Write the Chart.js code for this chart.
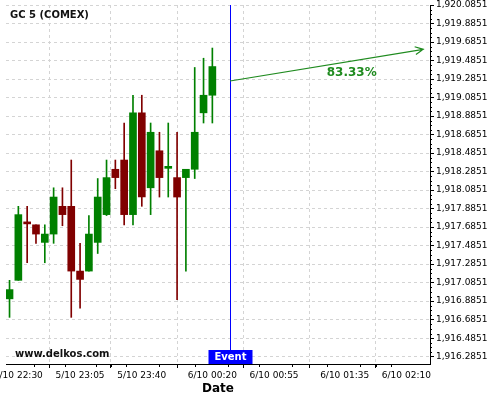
<!DOCTYPE html>
<html>
<head>
<meta charset="utf-8">
<script src="https://cdn.jsdelivr.net/npm/chart.js@4.4.1/dist/chart.umd.min.js"></script>
<style>
  html, body { margin: 0; padding: 0; background: #fff; }
</style>
</head>
<body>
<canvas id="myChart" width="500" height="400"></canvas>
<script>
// candle times, in minutes after 5/10 22:30 (5 minute candles)
var minutes = [-5, 0, 5, 10, 15, 20, 25, 30, 35, 40, 45, 50, 55, 60, 65, 70, 75, 80, 85, 90, 95, 100, 105, 110];
var open  = [1916.91, 1917.11, 1917.73, 1917.71, 1917.52, 1917.61, 1917.91, 1917.91, 1917.21, 1917.21, 1917.52, 1917.82,
             1918.31, 1918.41, 1917.82, 1918.92, 1918.11, 1918.51, 1918.32, 1918.22, 1918.22, 1918.31, 1918.92, 1919.11];
var high  = [1917.11, 1917.91, 1917.91, 1917.71, 1917.71, 1918.11, 1918.11, 1918.41, 1917.51, 1917.81, 1918.21, 1918.41,
             1918.41, 1918.81, 1919.11, 1919.11, 1918.81, 1918.71, 1918.81, 1918.71, 1918.31, 1919.41, 1919.51, 1919.62];
var low   = [1916.71, 1917.11, 1917.30, 1917.51, 1917.30, 1917.51, 1917.70, 1916.71, 1916.81, 1917.21, 1917.40, 1917.81,
             1918.10, 1917.71, 1917.71, 1917.91, 1917.82, 1918.01, 1918.01, 1916.90, 1917.21, 1918.21, 1918.81, 1918.81];
var close = [1917.01, 1917.82, 1917.72, 1917.61, 1917.61, 1918.01, 1917.82, 1917.21, 1917.12, 1917.61, 1918.01, 1918.22,
             1918.22, 1917.82, 1918.92, 1918.01, 1918.71, 1918.22, 1918.33, 1918.01, 1918.31, 1918.71, 1919.11, 1919.42];

var xTickMinutes = [0, 35, 70, 110, 145, 185, 220];
var xTickLabels = ['5/10 22:30', '5/10 23:05', '5/10 23:40', '6/10 00:20', '6/10 00:55', '6/10 01:35', '6/10 02:10'];
var yTicks = [1916.2851, 1916.4851, 1916.6851, 1916.8851, 1917.0851, 1917.2851, 1917.4851, 1917.6851, 1917.8851, 1918.0851,
              1918.2851, 1918.4851, 1918.6851, 1918.8851, 1919.0851, 1919.2851, 1919.4851, 1919.6851, 1919.8851, 1920.0851];

var eventMinute = 120;
var arrowFrom = [120, 1919.264];
var arrowTo = [229.6, 1919.606];
var arrowText = '83.33%';
var arrowTextAt = [189, 1919.35];

var UP = '#008000', DOWN = '#800000', ARROW = '#1f8b1f';
var FONT = '"DejaVu Sans", sans-serif';

var bodies = minutes.map(function (t, i) { return { x: t, y: [open[i], close[i]] }; });
var wicks = minutes.map(function (t, i) { return { x: t, y: [low[i], high[i]] }; });
var colors = minutes.map(function (t, i) { return close[i] >= open[i] ? UP : DOWN; });

var overlay = {
  id: 'overlay',
  afterDraw: function (chart) {
    var c = chart.ctx, xs = chart.scales.x, ys = chart.scales.y, area = chart.chartArea;
    c.save();

    // minor ticks
    c.strokeStyle = '#000';
    c.lineWidth = 1;
    c.beginPath();
    for (var i = 0; i < yTicks.length - 1; i++) {
      for (var k = 1; k < 4; k++) {
        var py = Math.round(ys.getPixelForValue(yTicks[i] + 0.05 * k)) + 0.5;
        c.moveTo(area.right, py); c.lineTo(area.right + 2, py);
      }
    }
    for (var j = 0; j < xTickMinutes.length - 1; j++) {
      var step = (xTickMinutes[j + 1] - xTickMinutes[j]) / 4;
      for (var m = 1; m < 4; m++) {
        var px = Math.round(xs.getPixelForValue(xTickMinutes[j] + step * m)) + 0.5;
        c.moveTo(px, area.bottom); c.lineTo(px, area.bottom + 3);
      }
    }
    c.stroke();

    // event line
    var ex = Math.round(xs.getPixelForValue(eventMinute)) + 0.5;
    c.strokeStyle = '#0000ff';
    c.beginPath();
    c.moveTo(ex, area.top); c.lineTo(ex, area.bottom);
    c.stroke();
    c.fillStyle = '#0000ff';
    c.fillRect(ex - 22, area.bottom - 14, 44, 14);
    c.fillStyle = '#fff';
    c.font = 'bold 10px ' + FONT;
    c.textAlign = 'center';
    c.textBaseline = 'middle';
    c.fillText('Event', ex, area.bottom - 6.5);

    // arrow
    var ax1 = xs.getPixelForValue(arrowFrom[0]), ay1 = ys.getPixelForValue(arrowFrom[1]);
    var ax2 = xs.getPixelForValue(arrowTo[0]), ay2 = ys.getPixelForValue(arrowTo[1]);
    var ang = Math.atan2(ay2 - ay1, ax2 - ax1);
    c.strokeStyle = ARROW;
    c.lineWidth = 1.2;
    c.beginPath();
    c.moveTo(ax1, ay1); c.lineTo(ax2, ay2);
    c.moveTo(ax2 - 9 * Math.cos(ang - 0.45), ay2 - 9 * Math.sin(ang - 0.45));
    c.lineTo(ax2, ay2);
    c.lineTo(ax2 - 9 * Math.cos(ang + 0.45), ay2 - 9 * Math.sin(ang + 0.45));
    c.stroke();
    c.fillStyle = ARROW;
    c.font = 'bold 12px ' + FONT;
    c.fillText(arrowText, xs.getPixelForValue(arrowTextAt[0]), ys.getPixelForValue(arrowTextAt[1]));

    // title and watermark
    c.fillStyle = '#111';
    c.textAlign = 'left';
    c.font = 'bold 10px ' + FONT;
    c.fillText('GC 5 (COMEX)', 10, 15.5);
    c.fillText('www.delkos.com', 15, 354);
    c.restore();
  }
};

var ctx = document.getElementById('myChart').getContext('2d');
const myChart = new Chart(ctx, {
  type: 'bar',
  data: {
    datasets: [{
      data: bodies,
      backgroundColor: colors,
      barThickness: 7,
      minBarLength: 2,
      grouped: false,
      order: 1
    }, {
      data: wicks,
      backgroundColor: colors,
      barThickness: 1,
      grouped: false,
      order: 2
    }]
  },
  options: {
    responsive: false,
    animation: false,
    layout: { padding: { left: 6, top: 5, right: 0, bottom: 0 } },
    plugins: { legend: { display: false }, tooltip: { enabled: false } },
    scales: {
      x: {
        type: 'linear',
        position: 'bottom',
        min: -7,
        max: 233.4,
        offset: false,
        afterBuildTicks: function (s) { s.ticks = xTickMinutes.map(function (v) { return { value: v }; }); },
        afterFit: function (s) { s.height = 36; s.paddingLeft = 0; s.paddingRight = 0; },
        ticks: {
          autoSkip: false, maxRotation: 0, minRotation: 0, padding: 2, color: '#000',
          font: { family: FONT, size: 9 },
          callback: function (v, i) { return xTickLabels[i]; }
        },
        grid: { color: '#d4d4d4', tickColor: '#000', tickLength: 4 },
        border: { color: '#000', dash: [3, 3] }
      ,
        title: { display: true, text: 'Date', color: '#000', font: { family: FONT, size: 12, weight: 'bold' }, padding: { top: 0, bottom: 4 } }
      },
      y: {
        type: 'linear',
        position: 'right',
        min: 1916.206,
        max: 1920.0851,
        afterBuildTicks: function (s) { s.ticks = yTicks.map(function (v) { return { value: v }; }); },
        afterFit: function (s) { s.width = 70; s.paddingTop = 0; s.paddingBottom = 0; },
        ticks: {
          autoSkip: false, padding: 2, color: '#000',
          font: { family: FONT, size: 9 },
          callback: function (v) { return v.toLocaleString('en-US', { minimumFractionDigits: 4, maximumFractionDigits: 4 }); }
        },
        grid: { color: '#d4d4d4', tickColor: '#000', tickLength: 4 },
        border: { color: '#000', dash: [3, 3] }
      }
    }
  },
  plugins: [overlay]
});
</script>
</body>
</html>
